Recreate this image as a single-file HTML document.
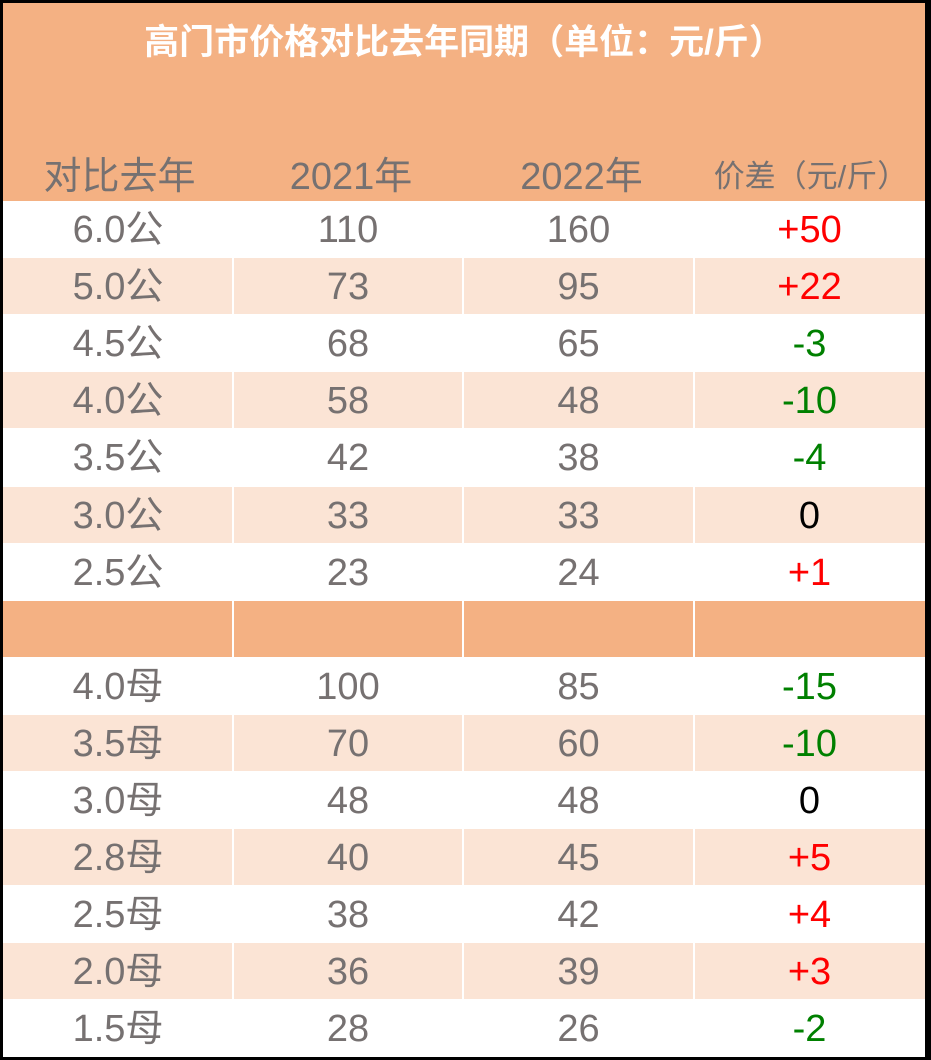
<!DOCTYPE html>
<html><head><meta charset="utf-8"><style>
body{margin:0;width:931px;height:1060px;background:#fff;overflow:hidden;font-family:"Liberation Sans","Noto Sans CJK SC",sans-serif}
#wrap{position:absolute;left:0;top:0;width:931px;height:1060px;box-sizing:border-box;border:3px solid #000;border-right:6px solid #000}
.abs{position:absolute}
.row{position:absolute;left:0;width:922px;height:56px}
.cell{position:absolute;top:0;height:56px;line-height:58px;text-align:center;font-size:38px;color:#767171}
.pink{background:#FBE4D5}.orange{background:#F4B183}
.vl{position:absolute;top:0;width:2px;height:56px;background:#fff}
</style></head><body>
<div id="wrap">
<div class="abs orange" style="left:0;top:0;width:922px;height:198px"></div>
<div class="abs" style="left:0;top:11px;width:922px;text-align:center;color:#fff;font-weight:bold;font-size:35px">高门市价格对比去年同期（单位：元/斤）</div>
<div class="cell" style="left:0;width:233px;top:145px">对比去年</div>
<div class="cell" style="left:233px;width:230px;top:145px">2021年</div>
<div class="cell" style="left:463px;width:231px;top:145px">2022年</div>
<div class="cell" style="left:694px;width:228px;top:145px;font-size:31px">价差（元/斤）</div>
<div id="rows"></div>
</div>
<script>
const sizes=["6.0公","5.0公","4.5公","4.0公","3.5公","3.0公","2.5公","","4.0母","3.5母","3.0母","2.8母","2.5母","2.0母","1.5母"];
const y2021=[110,73,68,58,42,33,23,null,100,70,48,40,38,36,28];
const y2022=[160,95,65,48,38,33,24,null,85,60,48,45,42,39,26];
const rows=document.getElementById('rows');
sizes.forEach((s,i)=>{
  const r=document.createElement('div');
  r.className='row '+(i===7?'orange':(i%2===1?'pink':''));
  r.style.top=(198+i*57.1)+'px';
  
  
  if(i!==7){
    const d=y2022[i]-y2021[i];
    const txt=d>0?'+'+d:String(d);
    const col=d>0?'#FF0000':(d<0?'#008000':'#000');
    const vals=[[s,0,230,'#767171','size-cell'],[y2021[i],230,230,'#767171','value-2021'],[y2022[i],460,231,'#767171','value-2022'],[txt,691,231,col,'diff-cell']];
    vals.forEach(v=>{
      const c=document.createElement('div');
      c.className='cell';c.style.left=v[1]+'px';c.style.width=v[2]+'px';c.style.color=v[3];
      c.textContent=v[0];
      
      
      r.appendChild(c);
    });
  }
  [229,459,690].forEach(x=>{
    const l=document.createElement('div');l.className='vl';l.style.left=x+'px';
    if(i%2===0&&i!==7)l.style.display='none';
    
    
    r.appendChild(l);
  });
  rows.appendChild(r);
});
</script>
</body></html>
